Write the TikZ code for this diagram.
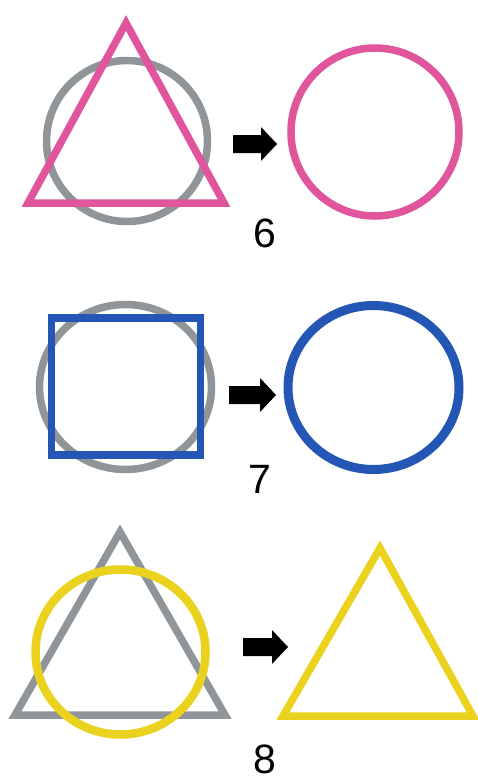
\documentclass[tikz,border=0pt]{standalone}
\usepackage{fontspec}
\setmainfont{Liberation Sans}
\definecolor{pinkc}{HTML}{E0559C}
\definecolor{grayc}{HTML}{8F9599}
\definecolor{bluec}{HTML}{2456B5}
\definecolor{yellowc}{HTML}{EBD21E}
\begin{document}
\begin{tikzpicture}[x=1pt,y=-1pt,
  outl/.style={line width=7.5pt, line join=miter},
  lbl/.style={font=\fontsize{41}{41}\selectfont, inner sep=0pt},
  arrowfill/.style={fill=black}]
\useasboundingbox (0,0) rectangle (478,782);
% Row 6
\draw[outl, grayc] (127,141) circle[radius=80.5];
\draw[outl, pinkc] (126,23) -- (224,203) -- (28,203) -- cycle;
\fill[arrowfill] (233,135) -- (261,135) -- (261,127) -- (277,144) -- (261,161) -- (261,153) -- (233,153) -- cycle;
\draw[outl, pinkc] (375,132) circle[radius=84];
\node[lbl] (six) at (265,233) {6};
% Row 7
\draw[outl, grayc] (125.5,387) ellipse[x radius=86, y radius=82.5];
\draw[outl, bluec] (51.5,318) rectangle (200.5,455);
\fill[arrowfill] (229,386) -- (260,386) -- (260,378) -- (276,395) -- (260,412) -- (260,404) -- (229,404) -- cycle;
\draw[line width=9pt, bluec] (373.5,387.5) ellipse[x radius=85.5, y radius=82];
\node[lbl] (seven) at (260,479) {7};
% Row 8
\draw[outl, grayc] (120,532) -- (225,715) -- (15,715) -- cycle;
\draw[line width=8.5pt, yellowc] (120.5,652) ellipse[x radius=85, y radius=82.5];
\fill[arrowfill] (243,638) -- (272,638) -- (272,630) -- (288,647) -- (272,664) -- (272,656) -- (243,656) -- cycle;
\draw[outl, yellowc] (380,548) -- (473,716) -- (283,716) -- cycle;
\node[lbl] (eight) at (265,759) {8};
\end{tikzpicture}
\end{document}
